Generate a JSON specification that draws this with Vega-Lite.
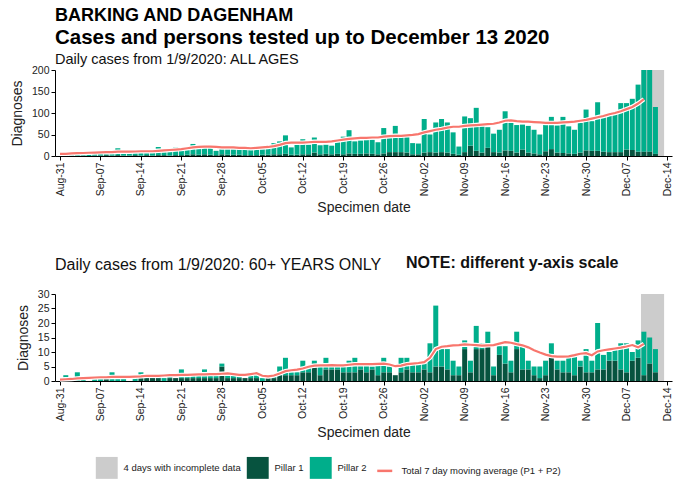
{
  "$schema": "https://vega.github.io/schema/vega-lite/v6.json",
  "padding": {"left": 10, "right": 2, "top": 7, "bottom": 2},
  "background": "white",
  "title": {
    "text": "BARKING AND DAGENHAM",
    "subtitle": "Cases and persons tested up to December 13 2020",
    "anchor": "start",
    "frame": "group",
    "font": "Liberation Sans",
    "fontSize": 18,
    "fontWeight": "bold",
    "color": "#000",
    "subtitleFont": "Liberation Sans",
    "subtitleFontSize": 20.5,
    "subtitleFontWeight": "bold",
    "subtitleColor": "#000",
    "subtitlePadding": 3,
    "offset": 3
  },
  "datasets": {
    "grey": [
      {"date": "2020-12-09T12:00:00Z", "end": "2020-12-13T12:00:00Z", "label": "4 days with incomplete data"}
    ],
    "all": [
      {"date": "2020-08-31", "Pillar 1": 0, "Pillar 2": 0, "ma": 5},
      {"date": "2020-09-01", "Pillar 1": 1, "Pillar 2": 3, "ma": 5},
      {"date": "2020-09-02", "Pillar 1": 1, "Pillar 2": 5, "ma": 6},
      {"date": "2020-09-03", "Pillar 1": 0, "Pillar 2": 5, "ma": 6.5},
      {"date": "2020-09-04", "Pillar 1": 1, "Pillar 2": 6, "ma": 7},
      {"date": "2020-09-05", "Pillar 1": 0, "Pillar 2": 3, "ma": 7.5},
      {"date": "2020-09-06", "Pillar 1": 1, "Pillar 2": 4, "ma": 8},
      {"date": "2020-09-07", "Pillar 1": 1, "Pillar 2": 8, "ma": 8.5},
      {"date": "2020-09-08", "Pillar 1": 2, "Pillar 2": 8, "ma": 9},
      {"date": "2020-09-09", "Pillar 1": 1, "Pillar 2": 7, "ma": 9},
      {"date": "2020-09-10", "Pillar 1": 2, "Pillar 2": 16, "ma": 10},
      {"date": "2020-09-11", "Pillar 1": 1, "Pillar 2": 8, "ma": 10},
      {"date": "2020-09-12", "Pillar 1": 1, "Pillar 2": 7, "ma": 10},
      {"date": "2020-09-13", "Pillar 1": 2, "Pillar 2": 9, "ma": 10.5},
      {"date": "2020-09-14", "Pillar 1": 1, "Pillar 2": 9, "ma": 11},
      {"date": "2020-09-15", "Pillar 1": 2, "Pillar 2": 10, "ma": 11},
      {"date": "2020-09-16", "Pillar 1": 1, "Pillar 2": 9, "ma": 11},
      {"date": "2020-09-17", "Pillar 1": 2, "Pillar 2": 19, "ma": 12},
      {"date": "2020-09-18", "Pillar 1": 2, "Pillar 2": 12, "ma": 13},
      {"date": "2020-09-19", "Pillar 1": 1, "Pillar 2": 12, "ma": 14},
      {"date": "2020-09-20", "Pillar 1": 2, "Pillar 2": 18, "ma": 15},
      {"date": "2020-09-21", "Pillar 1": 2, "Pillar 2": 12, "ma": 16},
      {"date": "2020-09-22", "Pillar 1": 3, "Pillar 2": 13, "ma": 18},
      {"date": "2020-09-23", "Pillar 1": 4, "Pillar 2": 24, "ma": 20},
      {"date": "2020-09-24", "Pillar 1": 3, "Pillar 2": 15, "ma": 21},
      {"date": "2020-09-25", "Pillar 1": 4, "Pillar 2": 16, "ma": 22},
      {"date": "2020-09-26", "Pillar 1": 3, "Pillar 2": 16, "ma": 22},
      {"date": "2020-09-27", "Pillar 1": 2, "Pillar 2": 10, "ma": 21},
      {"date": "2020-09-28", "Pillar 1": 4, "Pillar 2": 16, "ma": 20},
      {"date": "2020-09-29", "Pillar 1": 3, "Pillar 2": 16, "ma": 20},
      {"date": "2020-09-30", "Pillar 1": 3, "Pillar 2": 15, "ma": 20},
      {"date": "2020-10-01", "Pillar 1": 3, "Pillar 2": 18, "ma": 19},
      {"date": "2020-10-02", "Pillar 1": 2, "Pillar 2": 15, "ma": 19},
      {"date": "2020-10-03", "Pillar 1": 2, "Pillar 2": 14, "ma": 18},
      {"date": "2020-10-04", "Pillar 1": 2, "Pillar 2": 13, "ma": 19},
      {"date": "2020-10-05", "Pillar 1": 3, "Pillar 2": 19, "ma": 20},
      {"date": "2020-10-06", "Pillar 1": 3, "Pillar 2": 21, "ma": 21},
      {"date": "2020-10-07", "Pillar 1": 4, "Pillar 2": 26, "ma": 23},
      {"date": "2020-10-08", "Pillar 1": 4, "Pillar 2": 30, "ma": 26},
      {"date": "2020-10-09", "Pillar 1": 5, "Pillar 2": 43, "ma": 30},
      {"date": "2020-10-10", "Pillar 1": 3, "Pillar 2": 17, "ma": 31},
      {"date": "2020-10-11", "Pillar 1": 3, "Pillar 2": 25, "ma": 31},
      {"date": "2020-10-12", "Pillar 1": 4, "Pillar 2": 35, "ma": 31},
      {"date": "2020-10-13", "Pillar 1": 4, "Pillar 2": 22, "ma": 32},
      {"date": "2020-10-14", "Pillar 1": 8, "Pillar 2": 35, "ma": 33},
      {"date": "2020-10-15", "Pillar 1": 4, "Pillar 2": 21, "ma": 33},
      {"date": "2020-10-16", "Pillar 1": 5, "Pillar 2": 21, "ma": 33},
      {"date": "2020-10-17", "Pillar 1": 4, "Pillar 2": 20, "ma": 34},
      {"date": "2020-10-18", "Pillar 1": 5, "Pillar 2": 31, "ma": 36},
      {"date": "2020-10-19", "Pillar 1": 4, "Pillar 2": 41, "ma": 38},
      {"date": "2020-10-20", "Pillar 1": 6, "Pillar 2": 54, "ma": 40},
      {"date": "2020-10-21", "Pillar 1": 5, "Pillar 2": 29, "ma": 41},
      {"date": "2020-10-22", "Pillar 1": 5, "Pillar 2": 31, "ma": 42},
      {"date": "2020-10-23", "Pillar 1": 6, "Pillar 2": 31, "ma": 42},
      {"date": "2020-10-24", "Pillar 1": 5, "Pillar 2": 33, "ma": 43},
      {"date": "2020-10-25", "Pillar 1": 4, "Pillar 2": 28, "ma": 43},
      {"date": "2020-10-26", "Pillar 1": 6, "Pillar 2": 59, "ma": 45},
      {"date": "2020-10-27", "Pillar 1": 9, "Pillar 2": 33, "ma": 46},
      {"date": "2020-10-28", "Pillar 1": 9, "Pillar 2": 61, "ma": 47},
      {"date": "2020-10-29", "Pillar 1": 9, "Pillar 2": 36, "ma": 47},
      {"date": "2020-10-30", "Pillar 1": 8, "Pillar 2": 36, "ma": 48},
      {"date": "2020-10-31", "Pillar 1": 4, "Pillar 2": 26, "ma": 49},
      {"date": "2020-11-01", "Pillar 1": 4, "Pillar 2": 25, "ma": 51},
      {"date": "2020-11-02", "Pillar 1": 8, "Pillar 2": 78, "ma": 55},
      {"date": "2020-11-03", "Pillar 1": 9, "Pillar 2": 41, "ma": 58},
      {"date": "2020-11-04", "Pillar 1": 8, "Pillar 2": 70, "ma": 61},
      {"date": "2020-11-05", "Pillar 1": 9, "Pillar 2": 77, "ma": 63},
      {"date": "2020-11-06", "Pillar 1": 8, "Pillar 2": 70, "ma": 66},
      {"date": "2020-11-07", "Pillar 1": 5, "Pillar 2": 50, "ma": 68},
      {"date": "2020-11-08", "Pillar 1": 3, "Pillar 2": 19, "ma": 68},
      {"date": "2020-11-09", "Pillar 1": 9, "Pillar 2": 83, "ma": 70},
      {"date": "2020-11-10", "Pillar 1": 24, "Pillar 2": 64, "ma": 71},
      {"date": "2020-11-11", "Pillar 1": 12, "Pillar 2": 100, "ma": 72},
      {"date": "2020-11-12", "Pillar 1": 8, "Pillar 2": 61, "ma": 73},
      {"date": "2020-11-13", "Pillar 1": 19, "Pillar 2": 48, "ma": 74},
      {"date": "2020-11-14", "Pillar 1": 9, "Pillar 2": 43, "ma": 75},
      {"date": "2020-11-15", "Pillar 1": 8, "Pillar 2": 53, "ma": 78},
      {"date": "2020-11-16", "Pillar 1": 13, "Pillar 2": 91, "ma": 82},
      {"date": "2020-11-17", "Pillar 1": 12, "Pillar 2": 65, "ma": 83},
      {"date": "2020-11-18", "Pillar 1": 8, "Pillar 2": 64, "ma": 81},
      {"date": "2020-11-19", "Pillar 1": 15, "Pillar 2": 58, "ma": 80},
      {"date": "2020-11-20", "Pillar 1": 8, "Pillar 2": 62, "ma": 80},
      {"date": "2020-11-21", "Pillar 1": 6, "Pillar 2": 55, "ma": 79},
      {"date": "2020-11-22", "Pillar 1": 4, "Pillar 2": 46, "ma": 78},
      {"date": "2020-11-23", "Pillar 1": 11, "Pillar 2": 62, "ma": 77},
      {"date": "2020-11-24", "Pillar 1": 16, "Pillar 2": 75, "ma": 77},
      {"date": "2020-11-25", "Pillar 1": 8, "Pillar 2": 63, "ma": 77},
      {"date": "2020-11-26", "Pillar 1": 7, "Pillar 2": 84, "ma": 78},
      {"date": "2020-11-27", "Pillar 1": 6, "Pillar 2": 63, "ma": 79},
      {"date": "2020-11-28", "Pillar 1": 5, "Pillar 2": 56, "ma": 80},
      {"date": "2020-11-29", "Pillar 1": 8, "Pillar 2": 69, "ma": 82},
      {"date": "2020-11-30", "Pillar 1": 13, "Pillar 2": 95, "ma": 84},
      {"date": "2020-12-01", "Pillar 1": 12, "Pillar 2": 69, "ma": 87},
      {"date": "2020-12-02", "Pillar 1": 12, "Pillar 2": 113, "ma": 90},
      {"date": "2020-12-03", "Pillar 1": 10, "Pillar 2": 82, "ma": 93},
      {"date": "2020-12-04", "Pillar 1": 9, "Pillar 2": 85, "ma": 97},
      {"date": "2020-12-05", "Pillar 1": 9, "Pillar 2": 91, "ma": 100},
      {"date": "2020-12-06", "Pillar 1": 9, "Pillar 2": 114, "ma": 104},
      {"date": "2020-12-07", "Pillar 1": 15, "Pillar 2": 108, "ma": 109},
      {"date": "2020-12-08", "Pillar 1": 14, "Pillar 2": 119, "ma": 114},
      {"date": "2020-12-09", "Pillar 1": 10, "Pillar 2": 156, "ma": 122},
      {"date": "2020-12-10", "Pillar 1": 10, "Pillar 2": 190, "ma": 132},
      {"date": "2020-12-11", "Pillar 1": 10, "Pillar 2": 190, "ma": null},
      {"date": "2020-12-12", "Pillar 1": 5, "Pillar 2": 109, "ma": null},
      {"date": "2020-12-13", "Pillar 1": 0, "Pillar 2": 0, "ma": null}
    ],
    "old": [
      {"date": "2020-08-31", "Pillar 1": 0, "Pillar 2": 0, "ma": 0.5},
      {"date": "2020-09-01", "Pillar 1": 0, "Pillar 2": 2, "ma": 0.6},
      {"date": "2020-09-02", "Pillar 1": 0, "Pillar 2": 1, "ma": 0.7},
      {"date": "2020-09-03", "Pillar 1": 0, "Pillar 2": 3, "ma": 0.9},
      {"date": "2020-09-04", "Pillar 1": 0, "Pillar 2": 1, "ma": 1},
      {"date": "2020-09-05", "Pillar 1": 0, "Pillar 2": 0, "ma": 1.1},
      {"date": "2020-09-06", "Pillar 1": 0, "Pillar 2": 1, "ma": 1.2},
      {"date": "2020-09-07", "Pillar 1": 0, "Pillar 2": 1, "ma": 1.3},
      {"date": "2020-09-08", "Pillar 1": 1, "Pillar 2": 0, "ma": 1.3},
      {"date": "2020-09-09", "Pillar 1": 0, "Pillar 2": 3, "ma": 1.4},
      {"date": "2020-09-10", "Pillar 1": 0, "Pillar 2": 1, "ma": 1.4},
      {"date": "2020-09-11", "Pillar 1": 0, "Pillar 2": 1, "ma": 1.4},
      {"date": "2020-09-12", "Pillar 1": 0, "Pillar 2": 0, "ma": 1.4},
      {"date": "2020-09-13", "Pillar 1": 0, "Pillar 2": 1, "ma": 1.5},
      {"date": "2020-09-14", "Pillar 1": 1, "Pillar 2": 2, "ma": 1.6},
      {"date": "2020-09-15", "Pillar 1": 1, "Pillar 2": 1, "ma": 1.8},
      {"date": "2020-09-16", "Pillar 1": 1, "Pillar 2": 0, "ma": 1.8},
      {"date": "2020-09-17", "Pillar 1": 1, "Pillar 2": 1, "ma": 1.8},
      {"date": "2020-09-18", "Pillar 1": 0, "Pillar 2": 1, "ma": 1.9},
      {"date": "2020-09-19", "Pillar 1": 1, "Pillar 2": 1, "ma": 2},
      {"date": "2020-09-20", "Pillar 1": 1, "Pillar 2": 0, "ma": 2},
      {"date": "2020-09-21", "Pillar 1": 1, "Pillar 2": 3, "ma": 2.1},
      {"date": "2020-09-22", "Pillar 1": 1, "Pillar 2": 1, "ma": 2.1},
      {"date": "2020-09-23", "Pillar 1": 1, "Pillar 2": 1, "ma": 2.2},
      {"date": "2020-09-24", "Pillar 1": 1, "Pillar 2": 1, "ma": 2.3},
      {"date": "2020-09-25", "Pillar 1": 1, "Pillar 2": 3, "ma": 2.3},
      {"date": "2020-09-26", "Pillar 1": 1, "Pillar 2": 1, "ma": 2.4},
      {"date": "2020-09-27", "Pillar 1": 1, "Pillar 2": 1, "ma": 2.4},
      {"date": "2020-09-28", "Pillar 1": 5, "Pillar 2": 1, "ma": 2.5},
      {"date": "2020-09-29", "Pillar 1": 1, "Pillar 2": 1, "ma": 2.6},
      {"date": "2020-09-30", "Pillar 1": 1, "Pillar 2": 1, "ma": 2.4},
      {"date": "2020-10-01", "Pillar 1": 1, "Pillar 2": 1, "ma": 2.1},
      {"date": "2020-10-02", "Pillar 1": 1, "Pillar 2": 0, "ma": 2.1},
      {"date": "2020-10-03", "Pillar 1": 1, "Pillar 2": 2, "ma": 2.4},
      {"date": "2020-10-04", "Pillar 1": 1, "Pillar 2": 2, "ma": 2.7},
      {"date": "2020-10-05", "Pillar 1": 0, "Pillar 2": 1, "ma": 1.8},
      {"date": "2020-10-06", "Pillar 1": 1, "Pillar 2": 0, "ma": 1.6},
      {"date": "2020-10-07", "Pillar 1": 1, "Pillar 2": 1, "ma": 1.9},
      {"date": "2020-10-08", "Pillar 1": 2, "Pillar 2": 3, "ma": 2.6},
      {"date": "2020-10-09", "Pillar 1": 2, "Pillar 2": 6, "ma": 3.4},
      {"date": "2020-10-10", "Pillar 1": 2, "Pillar 2": 1, "ma": 3.7},
      {"date": "2020-10-11", "Pillar 1": 2, "Pillar 2": 1, "ma": 3.9},
      {"date": "2020-10-12", "Pillar 1": 3, "Pillar 2": 4, "ma": 4.3},
      {"date": "2020-10-13", "Pillar 1": 3, "Pillar 2": 2, "ma": 4.9},
      {"date": "2020-10-14", "Pillar 1": 6, "Pillar 2": 1, "ma": 5.3},
      {"date": "2020-10-15", "Pillar 1": 2, "Pillar 2": 3, "ma": 5.4},
      {"date": "2020-10-16", "Pillar 1": 4, "Pillar 2": 4, "ma": 5.4},
      {"date": "2020-10-17", "Pillar 1": 4, "Pillar 2": 1, "ma": 5.5},
      {"date": "2020-10-18", "Pillar 1": 4, "Pillar 2": 1, "ma": 5.4},
      {"date": "2020-10-19", "Pillar 1": 3, "Pillar 2": 3, "ma": 5.4},
      {"date": "2020-10-20", "Pillar 1": 3, "Pillar 2": 4, "ma": 5.6},
      {"date": "2020-10-21", "Pillar 1": 3, "Pillar 2": 5, "ma": 5.8},
      {"date": "2020-10-22", "Pillar 1": 4, "Pillar 2": 2, "ma": 5.8},
      {"date": "2020-10-23", "Pillar 1": 3, "Pillar 2": 3, "ma": 5.8},
      {"date": "2020-10-24", "Pillar 1": 4, "Pillar 2": 1, "ma": 5.8},
      {"date": "2020-10-25", "Pillar 1": 2, "Pillar 2": 4, "ma": 5.9},
      {"date": "2020-10-26", "Pillar 1": 3, "Pillar 2": 5, "ma": 6},
      {"date": "2020-10-27", "Pillar 1": 3, "Pillar 2": 2, "ma": 5.7},
      {"date": "2020-10-28", "Pillar 1": 2, "Pillar 2": 0, "ma": 5.1},
      {"date": "2020-10-29", "Pillar 1": 3, "Pillar 2": 5, "ma": 5.3},
      {"date": "2020-10-30", "Pillar 1": 4, "Pillar 2": 4, "ma": 5.8},
      {"date": "2020-10-31", "Pillar 1": 3, "Pillar 2": 3, "ma": 6},
      {"date": "2020-11-01", "Pillar 1": 3, "Pillar 2": 3, "ma": 6.2},
      {"date": "2020-11-02", "Pillar 1": 4, "Pillar 2": 2, "ma": 6.5},
      {"date": "2020-11-03", "Pillar 1": 3, "Pillar 2": 10, "ma": 8},
      {"date": "2020-11-04", "Pillar 1": 5, "Pillar 2": 21, "ma": 11},
      {"date": "2020-11-05", "Pillar 1": 5, "Pillar 2": 6, "ma": 11.8},
      {"date": "2020-11-06", "Pillar 1": 4, "Pillar 2": 7, "ma": 12},
      {"date": "2020-11-07", "Pillar 1": 2, "Pillar 2": 5, "ma": 12.3},
      {"date": "2020-11-08", "Pillar 1": 2, "Pillar 2": 3, "ma": 12.4},
      {"date": "2020-11-09", "Pillar 1": 11, "Pillar 2": 3, "ma": 12.6},
      {"date": "2020-11-10", "Pillar 1": 3, "Pillar 2": 4, "ma": 12.5},
      {"date": "2020-11-11", "Pillar 1": 11, "Pillar 2": 8, "ma": 12.4},
      {"date": "2020-11-12", "Pillar 1": 11, "Pillar 2": 2, "ma": 12.2},
      {"date": "2020-11-13", "Pillar 1": 12, "Pillar 2": 5, "ma": 12.3},
      {"date": "2020-11-14", "Pillar 1": 2, "Pillar 2": 3, "ma": 12.4},
      {"date": "2020-11-15", "Pillar 1": 9, "Pillar 2": 3, "ma": 12.9},
      {"date": "2020-11-16", "Pillar 1": 6, "Pillar 2": 6, "ma": 13.4},
      {"date": "2020-11-17", "Pillar 1": 3, "Pillar 2": 4, "ma": 13.2},
      {"date": "2020-11-18", "Pillar 1": 11, "Pillar 2": 6, "ma": 12.7},
      {"date": "2020-11-19", "Pillar 1": 4, "Pillar 2": 8, "ma": 12.3},
      {"date": "2020-11-20", "Pillar 1": 4, "Pillar 2": 3, "ma": 11.6},
      {"date": "2020-11-21", "Pillar 1": 2, "Pillar 2": 3, "ma": 10.6},
      {"date": "2020-11-22", "Pillar 1": 1, "Pillar 2": 4, "ma": 9.8},
      {"date": "2020-11-23", "Pillar 1": 2, "Pillar 2": 5, "ma": 9.1},
      {"date": "2020-11-24", "Pillar 1": 8, "Pillar 2": 5, "ma": 8.6},
      {"date": "2020-11-25", "Pillar 1": 4, "Pillar 2": 3, "ma": 8.4},
      {"date": "2020-11-26", "Pillar 1": 3, "Pillar 2": 4, "ma": 8.4},
      {"date": "2020-11-27", "Pillar 1": 3, "Pillar 2": 5, "ma": 8.5},
      {"date": "2020-11-28", "Pillar 1": 2, "Pillar 2": 7, "ma": 8.9},
      {"date": "2020-11-29", "Pillar 1": 5, "Pillar 2": 2, "ma": 9.4},
      {"date": "2020-11-30", "Pillar 1": 3, "Pillar 2": 8, "ma": 9.6},
      {"date": "2020-12-01", "Pillar 1": 3, "Pillar 2": 4, "ma": 8.9},
      {"date": "2020-12-02", "Pillar 1": 4, "Pillar 2": 16, "ma": 10.2},
      {"date": "2020-12-03", "Pillar 1": 4, "Pillar 2": 5, "ma": 10.6},
      {"date": "2020-12-04", "Pillar 1": 7, "Pillar 2": 3, "ma": 10.9},
      {"date": "2020-12-05", "Pillar 1": 7, "Pillar 2": 4, "ma": 11.2},
      {"date": "2020-12-06", "Pillar 1": 4, "Pillar 2": 9, "ma": 11.5},
      {"date": "2020-12-07", "Pillar 1": 3, "Pillar 2": 10, "ma": 11.9},
      {"date": "2020-12-08", "Pillar 1": 7, "Pillar 2": 3, "ma": 12.4},
      {"date": "2020-12-09", "Pillar 1": 8, "Pillar 2": 6, "ma": 11.6},
      {"date": "2020-12-10", "Pillar 1": 2, "Pillar 2": 15, "ma": 12.8},
      {"date": "2020-12-11", "Pillar 1": 6, "Pillar 2": 9, "ma": null},
      {"date": "2020-12-12", "Pillar 1": 3, "Pillar 2": 8, "ma": null},
      {"date": "2020-12-13", "Pillar 1": 0, "Pillar 2": 0, "ma": null}
    ]
  },
  "vconcat": [
    {
      "width": 617,
      "height": 86,
      "title": {"text": "Daily cases from 1/9/2020: ALL AGES", "anchor": "start", "frame": "group", "fontSize": 14.5, "fontWeight": "normal", "offset": -2},
      "encoding": {
        "x": {
          "field": "date", "type": "temporal", "title": "Specimen date",
          "scale": {"type": "utc", "domain": [{"year": 2020, "month": 8, "date": 31, "utc": true}, {"year": 2020, "month": 12, "date": 14, "utc": true}]},
          "axis": {
            "format": "%b-%d", "labelAngle": -90,
            "values": [
              {"year": 2020, "month": 8, "date": 31, "utc": true},
              {"year": 2020, "month": 9, "date": 7, "utc": true},
              {"year": 2020, "month": 9, "date": 14, "utc": true},
              {"year": 2020, "month": 9, "date": 21, "utc": true},
              {"year": 2020, "month": 9, "date": 28, "utc": true},
              {"year": 2020, "month": 10, "date": 5, "utc": true},
              {"year": 2020, "month": 10, "date": 12, "utc": true},
              {"year": 2020, "month": 10, "date": 19, "utc": true},
              {"year": 2020, "month": 10, "date": 26, "utc": true},
              {"year": 2020, "month": 11, "date": 2, "utc": true},
              {"year": 2020, "month": 11, "date": 9, "utc": true},
              {"year": 2020, "month": 11, "date": 16, "utc": true},
              {"year": 2020, "month": 11, "date": 23, "utc": true},
              {"year": 2020, "month": 11, "date": 30, "utc": true},
              {"year": 2020, "month": 12, "date": 7, "utc": true},
              {"year": 2020, "month": 12, "date": 14, "utc": true}
            ]
          }
        }
      },
      "layer": [
        {
          "data": {"name": "grey"},
          "mark": {"type": "rect"},
          "encoding": {
            "x2": {"field": "end"},
            "color": {
              "field": "label", "type": "nominal",
              "scale": {
                "domain": ["4 days with incomplete data", "Pillar 1", "Pillar 2", "Total 7 day moving average (P1 + P2)"],
                "range": ["#cccccc", "#07533f", "#00ae8b", "#f8766d"]
              },
              "legend": {
                "orient": "none", "legendX": 47, "legendY": 393, "direction": "horizontal", "title": null,
                "symbolSize": 480, "labelFontSize": 9.5, "columnPadding": 5, "labelOffset": 12, "labelLimit": 400,
                "labelColor": "#222",
                "encode": {
                  "symbols": {
                    "update": {
                      "shape": {"signal": "datum.label === 'Total 7 day moving average (P1 + P2)' ? 'stroke' : 'square'"},
                      "fill": {"signal": "datum.label === 'Total 7 day moving average (P1 + P2)' ? 'transparent' : scale('color', datum.value)"},
                      "stroke": {"signal": "scale('color', datum.value)"},
                      "strokeWidth": {"signal": "datum.label === 'Total 7 day moving average (P1 + P2)' ? 2.5 : 0"},
                      "size": {"signal": "datum.label === 'Total 7 day moving average (P1 + P2)' ? 225 : 480"}
                    }
                  }
                }
              }
            }
          }
        },
        {
          "data": {"name": "all"},
          "transform": [{"fold": ["Pillar 1", "Pillar 2"], "as": ["pillar", "n"]}],
          "mark": {"type": "bar", "width": 5},
          "encoding": {
            "y": {"field": "n", "type": "quantitative", "stack": "zero", "title": "Diagnoses",
                  "scale": {"domain": [0, 200], "nice": false},
                  "axis": {"values": [0, 50, 100, 150, 200]}},
            "color": {"field": "pillar", "type": "nominal"},
            "order": {"field": "pillar", "sort": "ascending"}
          }
        },
        {
          "data": {"name": "all"},
          "mark": {"type": "line", "color": "white", "strokeWidth": 4.5},
          "encoding": {"y": {"field": "ma", "type": "quantitative", "title": "Diagnoses",
                  "scale": {"domain": [0, 200], "nice": false},
                  "axis": {"values": [0, 50, 100, 150, 200]}}}
        },
        {
          "data": {"name": "all"},
          "mark": {"type": "line", "strokeWidth": 2.2},
          "encoding": {
            "y": {"field": "ma", "type": "quantitative", "title": "Diagnoses",
                  "scale": {"domain": [0, 200], "nice": false},
                  "axis": {"values": [0, 50, 100, 150, 200]}},
            "color": {"datum": "Total 7 day moving average (P1 + P2)"}
          }
        }
      ]
    },
    {
      "title": {"text": "NOTE: different y-axis scale", "anchor": "start", "frame": "group", "fontSize": 16, "fontWeight": "bold", "dx": 351, "dy": 18},
      "vconcat": [
        {
          "width": 617,
          "height": 87,
          "title": {"text": "Daily cases from 1/9/2020: 60+ YEARS ONLY", "anchor": "start", "frame": "group", "fontSize": 16, "fontWeight": "normal", "offset": 16},
          "encoding": {
            "x": {
              "field": "date", "type": "temporal", "title": "Specimen date",
              "scale": {"type": "utc", "domain": [{"year": 2020, "month": 8, "date": 31, "utc": true}, {"year": 2020, "month": 12, "date": 14, "utc": true}]},
              "axis": {
                "format": "%b-%d", "labelAngle": -90,
                "values": [
                  {"year": 2020, "month": 8, "date": 31, "utc": true},
                  {"year": 2020, "month": 9, "date": 7, "utc": true},
                  {"year": 2020, "month": 9, "date": 14, "utc": true},
                  {"year": 2020, "month": 9, "date": 21, "utc": true},
                  {"year": 2020, "month": 9, "date": 28, "utc": true},
                  {"year": 2020, "month": 10, "date": 5, "utc": true},
                  {"year": 2020, "month": 10, "date": 12, "utc": true},
                  {"year": 2020, "month": 10, "date": 19, "utc": true},
                  {"year": 2020, "month": 10, "date": 26, "utc": true},
                  {"year": 2020, "month": 11, "date": 2, "utc": true},
                  {"year": 2020, "month": 11, "date": 9, "utc": true},
                  {"year": 2020, "month": 11, "date": 16, "utc": true},
                  {"year": 2020, "month": 11, "date": 23, "utc": true},
                  {"year": 2020, "month": 11, "date": 30, "utc": true},
                  {"year": 2020, "month": 12, "date": 7, "utc": true},
                  {"year": 2020, "month": 12, "date": 14, "utc": true}
                ]
              }
            }
          },
          "layer": [
            {
              "data": {"name": "grey"},
              "mark": {"type": "rect"},
              "encoding": {
                "x2": {"field": "end"},
                "color": {"field": "label", "type": "nominal"}
              }
            },
            {
              "data": {"name": "old"},
              "transform": [{"fold": ["Pillar 1", "Pillar 2"], "as": ["pillar", "n"]}],
              "mark": {"type": "bar", "width": 5},
              "encoding": {
                "y": {"field": "n", "type": "quantitative", "stack": "zero", "title": "Diagnoses",
                      "scale": {"domain": [0, 30], "nice": false},
                      "axis": {"values": [0, 5, 10, 15, 20, 25, 30]}},
                "color": {"field": "pillar", "type": "nominal"},
                "order": {"field": "pillar", "sort": "ascending"}
              }
            },
            {
              "data": {"name": "old"},
              "mark": {"type": "line", "color": "white", "strokeWidth": 4.5},
              "encoding": {"y": {"field": "ma", "type": "quantitative", "title": "Diagnoses",
                      "scale": {"domain": [0, 30], "nice": false},
                      "axis": {"values": [0, 5, 10, 15, 20, 25, 30]}}}
            },
            {
              "data": {"name": "old"},
              "mark": {"type": "line", "strokeWidth": 2.2},
              "encoding": {
                "y": {"field": "ma", "type": "quantitative", "title": "Diagnoses",
                      "scale": {"domain": [0, 30], "nice": false},
                      "axis": {"values": [0, 5, 10, 15, 20, 25, 30]}},
                "color": {"datum": "Total 7 day moving average (P1 + P2)"}
              }
            }
          ]
        }
      ]
    }
  ],
  "config": {
    "font": "Liberation Sans",
    "view": {"stroke": null},
    "concat": {"spacing": 40},
    "title": {"color": "#111", "font": "Liberation Sans"},
    "axis": {
      "grid": false, "domainColor": "#000", "tickColor": "#000", "labelColor": "#222", "titleColor": "#222",
      "labelFontSize": 10.5, "titleFontSize": 14, "titleFontWeight": "normal", "labelFont": "Liberation Sans", "titleFont": "Liberation Sans",
      "tickSize": 4, "labelPadding": 2
    },
    "axisY": {"titlePadding": 7},
    "axisX": {"titlePadding": 5},
    "legend": {"labelFont": "Liberation Sans"}
  }
}
